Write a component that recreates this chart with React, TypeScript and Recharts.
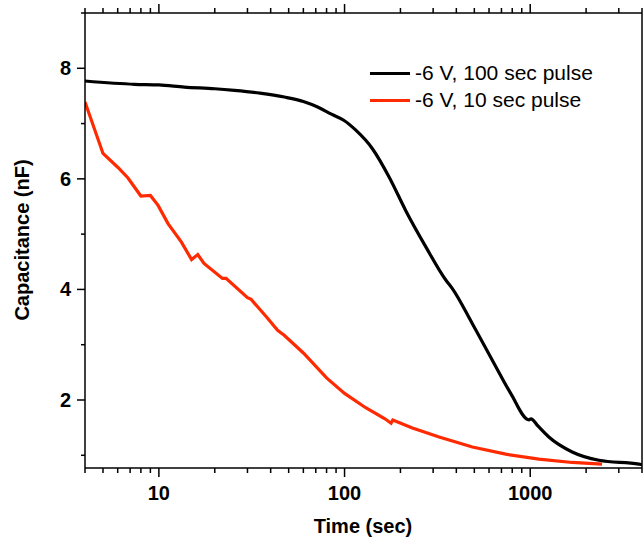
import { LineChart, Line, XAxis, YAxis } from "recharts";

// -6 V, 100 sec pulse
const longTime = [4, 7.4, 10, 13.7, 20, 25.5, 35, 47.4, 60, 71.6, 85, 99, 115, 141, 174, 214, 274, 351, 380, 488, 625, 785, 985, 1010, 1100, 1260, 1683, 2345, 3850, 4000];
const longCap = [7.77, 7.71, 7.7, 7.66, 7.63, 7.6, 7.55, 7.48, 7.4, 7.3, 7.17, 7.06, 6.88, 6.55, 6.03, 5.42, 4.77, 4.17, 4.02, 3.38, 2.72, 2.12, 1.64, 1.66, 1.53, 1.33, 1.06, 0.91, 0.84, 0.83];

// -6 V, 10 sec pulse
const shortTime = [4, 5, 6, 6.8, 8, 9, 9.9, 11.2, 13.2, 15, 16.2, 17.5, 22, 23, 30, 31.4, 38, 43.6, 47.3, 60, 80, 100, 130, 165, 178, 182, 230, 323, 488, 738, 1114, 1683, 2437];
const shortCap = [7.39, 6.46, 6.21, 6.02, 5.69, 5.7, 5.52, 5.19, 4.86, 4.54, 4.63, 4.47, 4.2, 4.2, 3.85, 3.82, 3.5, 3.26, 3.17, 2.85, 2.4, 2.12, 1.86, 1.66, 1.58, 1.64, 1.5, 1.33, 1.15, 1.02, 0.93, 0.87, 0.84];

const xTicks = [4, 5, 6, 7, 8, 9, 10, 20, 30, 40, 50, 60, 70, 80, 90, 100, 200, 300, 400, 500, 600, 700, 800, 900, 1000, 2000, 3000, 4000];
const xLabels = [10, 100, 1000];
const yTicks = [1, 2, 3, 4, 5, 6, 7, 8, 9];
const yLabels = [2, 4, 6, 8];

const longData = longTime.map((t, i) => ({ t, c: longCap[i] }));
const shortData = shortTime.map((t, i) => ({ t, c: shortCap[i] }));

const font = "'Liberation Sans', Arial, sans-serif";
const RED = "#ff2a00";

const BottomTick = ({ x, y, payload }: any) => {
  const major = xLabels.includes(payload.value);
  return (
    <g>
      <line x1={x} x2={x} y1={y} y2={y + (major ? 9 : 5)} stroke="#000" strokeWidth={1.5} />
      {major && (
        <text x={x} y={y + 32} textAnchor="middle" fontFamily={font} fontWeight="bold" fontSize={20} fill="#000">
          {payload.value}
        </text>
      )}
    </g>
  );
};

const TopTick = ({ x, y, payload }: any) => {
  const major = xLabels.includes(payload.value);
  return <line x1={x} x2={x} y1={y} y2={y - (major ? 9 : 5)} stroke="#000" strokeWidth={1.5} />;
};

const LeftTick = ({ x, y, payload }: any) => {
  const major = yLabels.includes(payload.value);
  return (
    <g>
      <line x1={x} x2={x - (major ? 8 : 4)} y1={y} y2={y} stroke="#000" strokeWidth={1.5} />
      {major && (
        <text x={x - 14} y={y + 7} textAnchor="end" fontFamily={font} fontWeight="bold" fontSize={20} fill="#000">
          {payload.value}
        </text>
      )}
    </g>
  );
};

const LegendRow = ({ color, label, top }: { color: string; label: string; top: number }) => (
  <div style={{ position: "absolute", left: 370, top: top - 12, height: 24, display: "flex", alignItems: "center" }}>
    <div style={{ width: 40, height: 3, background: color }} />
    <span style={{ marginLeft: 5, fontFamily: font, fontSize: 21, color: "#000", whiteSpace: "nowrap" }}>{label}</span>
  </div>
);

export default function App() {
  return (
    <div style={{ position: "relative", width: 643, height: 539, background: "#fff" }}>
      <style>{"body{margin:0}"}</style>
      <LineChart width={643} height={539} margin={{ top: 0, right: 0, bottom: 0, left: 0 }}>
        <XAxis
          xAxisId="bottom"
          dataKey="t"
          type="number"
          scale="log"
          domain={[4, 4000]}
          allowDataOverflow
          ticks={xTicks}
          interval={0}
          height={71}
          tickSize={0}
          tickMargin={0}
          tickLine={false}
          axisLine={{ stroke: "#000", strokeWidth: 1.5 }}
          tick={<BottomTick />}
        />
        <XAxis
          xAxisId="top"
          orientation="top"
          dataKey="t"
          type="number"
          scale="log"
          domain={[4, 4000]}
          allowDataOverflow
          ticks={xTicks}
          interval={0}
          height={13}
          tickSize={0}
          tickMargin={0}
          tickLine={false}
          axisLine={{ stroke: "#000", strokeWidth: 1.5 }}
          tick={<TopTick />}
        />
        <YAxis
          yAxisId="left"
          type="number"
          domain={[0.77, 9]}
          allowDataOverflow
          ticks={yTicks}
          interval={0}
          width={85}
          tickSize={0}
          tickMargin={0}
          tickLine={false}
          axisLine={{ stroke: "#000", strokeWidth: 1.5 }}
          tick={<LeftTick />}
        />
        <YAxis
          yAxisId="right"
          orientation="right"
          type="number"
          domain={[0.77, 9]}
          width={1}
          tick={false}
          tickLine={false}
          axisLine={{ stroke: "#000", strokeWidth: 1.5 }}
        />
        <Line
          xAxisId="bottom"
          yAxisId="left"
          data={longData}
          dataKey="c"
          type="monotone"
          stroke="#000"
          strokeWidth={3.2}
          dot={false}
          isAnimationActive={false}
        />
        <Line
          xAxisId="bottom"
          yAxisId="left"
          data={shortData}
          dataKey="c"
          type="linear"
          stroke={RED}
          strokeWidth={3.2}
          dot={false}
          isAnimationActive={false}
        />
      </LineChart>
      <LegendRow color="#000" label="-6 V, 100 sec pulse" top={73} />
      <LegendRow color={RED} label="-6 V, 10 sec pulse" top={100} />
      <div
        style={{ position: "absolute", left: 363, top: 515, transform: "translateX(-50%)", whiteSpace: "nowrap", fontFamily: font, fontWeight: "bold", fontSize: 20 }}
      >
        Time (sec)
      </div>
      <div
        style={{
          position: "absolute",
          left: 22,
          top: 240,
          transform: "translate(-50%, -50%) rotate(-90deg)",
          fontFamily: font,
          fontWeight: "bold",
          fontSize: 20,
          whiteSpace: "nowrap",
        }}
      >
        Capacitance (nF)
      </div>
    </div>
  );
}
